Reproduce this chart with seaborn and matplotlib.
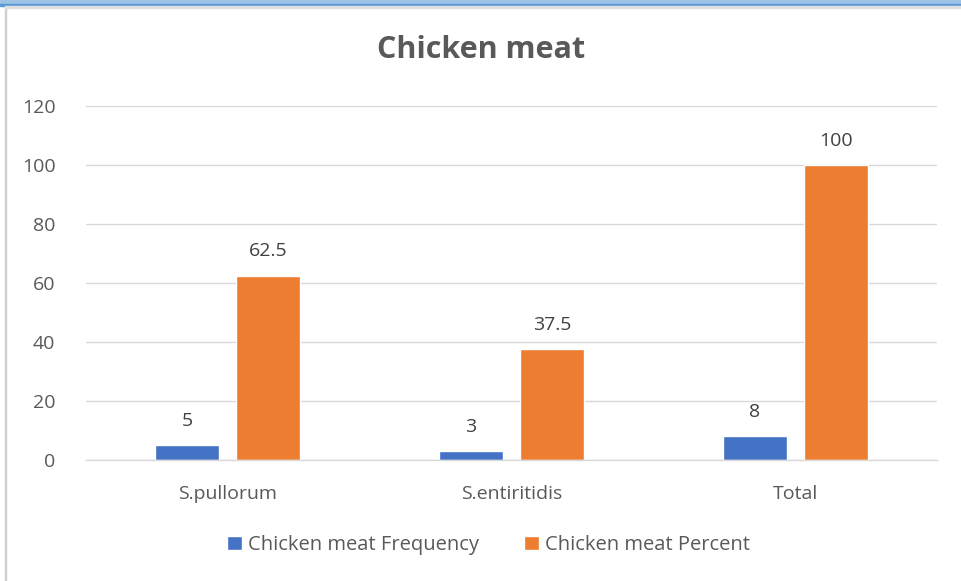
import matplotlib
matplotlib.use("Agg")
import matplotlib.pyplot as plt
from matplotlib.patches import Rectangle
import seaborn as sns
import pandas as pd

categories = ["S.pullorum", "S.entiritidis", "Total"]
frequency = [5, 3, 8]
percent = [62.5, 37.5, 100]
series_names = ["Chicken meat Frequency", "Chicken meat Percent"]
colors = ["#4472C4", "#ED7D31"]

df = pd.DataFrame({
    "category": categories * 2,
    "value": frequency + percent,
    "series": [series_names[0]] * 3 + [series_names[1]] * 3,
})

sns.set_style("white")
plt.rcParams["font.family"] = ["Open Sans", "DejaVu Sans"]

fig = plt.figure(figsize=(9.62, 5.81), dpi=100)
ax = fig.add_axes([86 / 962, 1 - 460 / 581, (937 - 86) / 962, (460 - 106) / 581])

sns.barplot(data=df, x="category", y="value", hue="series", palette=colors,
            width=0.571, gap=0.21, ax=ax, legend=True, saturation=1)

ax.set_ylim(0, 120)
ax.set_xlim(-0.5, 2.5)
ax.set_yticks(range(0, 121, 20))
ax.grid(axis="y", color="#d9d9d9", linewidth=1)
ax.set_axisbelow(True)
for s in ["top", "right", "left"]:
    ax.spines[s].set_visible(False)
ax.spines["bottom"].set_color("#d9d9d9")
ax.spines["bottom"].set_linewidth(1)
ax.tick_params(axis="both", length=0, labelsize=14, colors="#595959")
ax.tick_params(axis="y", pad=22)
ax.tick_params(axis="x", pad=18)
ax.set_xlabel("")
ax.set_ylabel("")

for cont in ax.containers:
    ax.bar_label(cont, labels=[f"{v:g}" for v in cont.datavalues],
                 padding=11, fontsize=14, color="#404040")

ax.legend(loc="center", bbox_to_anchor=(0.473, (460 - 545) / 354), ncol=2,
          frameon=False, fontsize=14.5, handlelength=0.75, handleheight=0.75,
          columnspacing=2.2, handletextpad=0.3, labelcolor="#595959")

fig.text(0.5, 1 - 50 / 581, "Chicken meat", ha="center", va="center",
         fontsize=22, fontweight="bold", color="#595959")

# screenshot border decorations
fig.add_artist(Rectangle((0, 1 - 4 / 581), 1, 4 / 581, transform=fig.transFigure,
                         color="#9dc3e6", zorder=10))
fig.add_artist(Rectangle((0, 1 - 6 / 581), 1, 2 / 581, transform=fig.transFigure,
                         color="#5b9bd5", zorder=10))
fig.add_artist(Rectangle((5 / 962, 0), 1 / 962, 1 - 7 / 581, transform=fig.transFigure,
                         color="#d0d0d0", zorder=10))
fig.add_artist(Rectangle((5 / 962, 1 - 8 / 581), 1 - 5 / 962, 1.5 / 581,
                         transform=fig.transFigure, color="#e0e0e0", zorder=10))

fig.savefig("out.png", dpi=100)
